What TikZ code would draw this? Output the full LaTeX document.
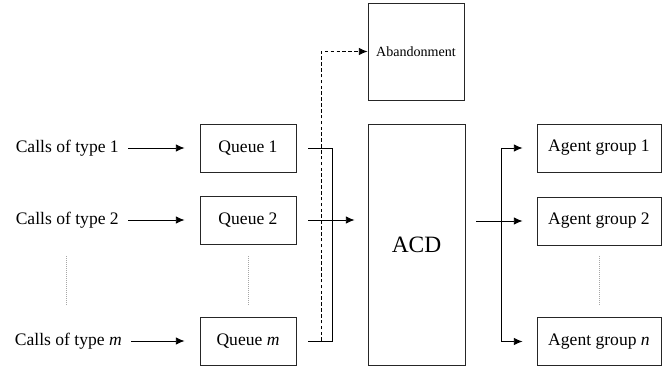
\documentclass[tikz,border=0pt]{standalone}
\usepackage{fontspec}
\setmainfont{Liberation Serif}
\usepackage{tikz}
\usetikzlibrary{arrows.meta,positioning,calc}

\begin{document}
\begin{tikzpicture}[x=0.03cm,y=-0.03cm,
  box/.style={rectangle,draw=black!85,line width=0.7pt,
              minimum width=2.88cm,minimum height=1.44cm,
              align=center,font=\fontsize{15}{18}\selectfont},
  agbox/.style={box,minimum width=3.72cm},
  src/.style={inner sep=0pt,anchor=east,font=\fontsize{15}{18}\selectfont},
  arr/.style={-{Latex[length=7.5pt,width=6.5pt]},line width=0.8pt},
  lin/.style={line width=0.8pt},
  dots/.style={densely dotted,gray!70,line width=0.7pt}]
\useasboundingbox (0,0) rectangle (668,369);
%%
%% Nodes
\node[src](calls1) at (119,148) {Calls of type 1};
\node[src](calls2) at (119,220) {Calls of type 2};
\node[src](callsm) at (122,341) {Calls of type \textit{m}};
\node[box](q1)     at (248,148) {Queue 1};
\node[box](q2)     at (248,220) {Queue 2};
\node[box](qm)     at (248,341) {Queue \textit{m}};
\node[box,minimum height=2.91cm,font=\fontsize{12}{14}\selectfont](abandon) at (416,51.5) {Abandonment};
\node[box,minimum width=2.91cm,minimum height=7.23cm,font=\fontsize{20}{24}\selectfont](acd) at (416.5,244.5) {ACD};
\node[agbox](ag1)  at (599,148) {Agent group 1};
\node[agbox](ag2)  at (599,221) {Agent group 2};
\node[agbox](agn)  at (599,341.5) {Agent group \textit{n}};
%%
%% Calls -> queues
\draw[arr,shorten <=0.27cm,shorten >=0.45cm](calls1) -- (q1);
\draw[arr,shorten <=0.27cm,shorten >=0.45cm](calls2) -- (q2);
\draw[arr,shorten <=0.27cm,shorten >=0.45cm](callsm) -- (qm);
%%
%% Dotted gaps
\draw[dots](66,256) -- (66,305);
\draw[dots](q2.south |- 0,256) -- (q2.south |- 0,305);
\draw[dots](ag2.south |- 0,256) -- (ag2.south |- 0,305);
%%
%% Queues merge into the ACD
\coordinate (qjoin) at (332,220);
\draw[lin]([xshift=0.36cm]q1.east) -| (qjoin |- qm.east) -- ([xshift=0.36cm]qm.east);
\draw[arr,shorten >=0.39cm]([xshift=0.36cm]q2.east) -- (acd.west |- q2.east);
%%
%% Abandonment (dashed)
\draw[arr,dash pattern=on 3pt off 2pt]($(qm.east)+(25,0)$) |- (abandon.west);
%%
%% ACD -> agent groups
\coordinate (ajoin) at (501,221);
\draw[lin]([xshift=0.33cm]acd.east |- ag2.west) -- (ajoin);
\draw[arr,shorten >=0.42cm](ajoin |- ag1.west) -- (ag1.west);
\draw[arr,shorten >=0.42cm](ajoin) -- (ag2.west);
\draw[arr,shorten >=0.42cm](ajoin |- agn.west) -- (agn.west);
\draw[lin](ajoin |- ag1.west) -- (ajoin |- agn.west);
\end{tikzpicture}
\end{document}
